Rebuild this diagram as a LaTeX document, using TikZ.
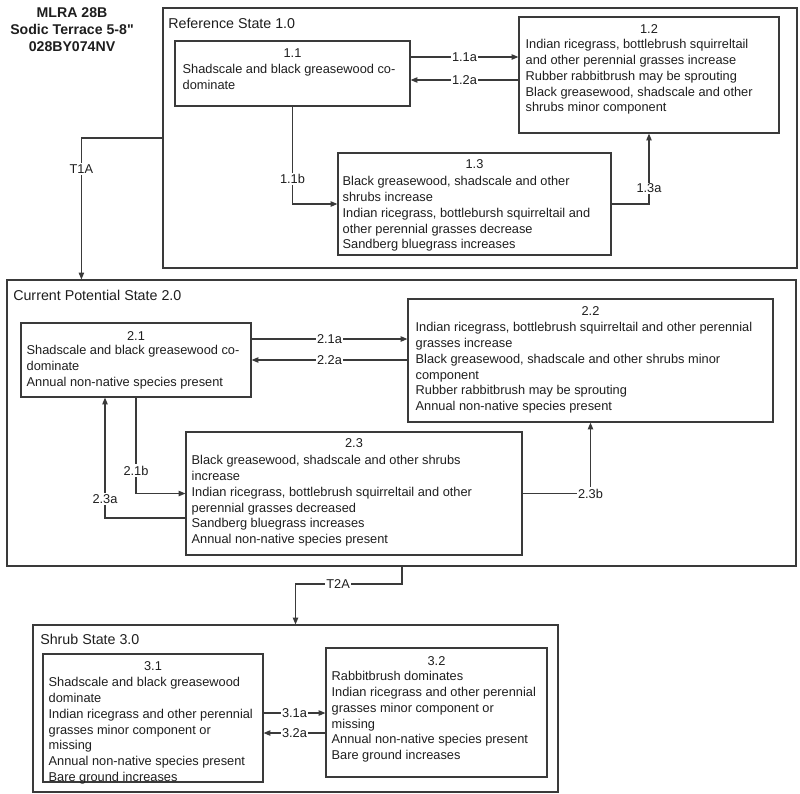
\documentclass[tikz,border=0pt]{standalone}
\usepackage{fontspec}
\setmainfont{Liberation Sans}
\usetikzlibrary{arrows.meta,calc,fit}
\definecolor{ln}{HTML}{3A3A3A}
\definecolor{tx}{HTML}{1E1E1E}
\begin{document}
\begin{tikzpicture}[x=0.75pt,y=-0.75pt,
  stbox/.style={draw=ln, line width=0.9pt, inner sep=0pt},
  num/.style={text=tx, font=\fontsize{9.6}{11.8}\selectfont, inner sep=0pt, anchor=north},
  body/.style={text=tx, font=\fontsize{9.6}{11.8}\selectfont, inner sep=0pt, align=left, anchor=north west},
  statelbl/.style={text=tx, font=\fontsize{10.7}{12.8}\selectfont, inner sep=0pt, anchor=west},
  lbl/.style={text=tx, font=\fontsize{9.6}{11.8}\selectfont, fill=white, inner sep=1pt},
  conn/.style={draw=ln, line width=0.8pt},
  arr/.style={conn, -{Triangle[length=5pt,width=4pt]}}
]
\useasboundingbox (0,0) rectangle (800,793);

% title
\node[text=tx, font=\bfseries\fontsize{10.6}{12.75}\selectfont, align=center, inner sep=0pt, anchor=north] (title) at (72,7) {MLRA 28B\\Sodic Terrace 5-8\textquotedbl\\028BY074NV};

% state boxes
\node[stbox, fit={(163,8) (797,268)}] (R) {};
\node[stbox, fit={(7,280) (796,566)}] (C) {};
\node[stbox, fit={(33,625) (558,792)}] (S) {};
\node[statelbl] (Rl) at (168,23) {Reference State 1.0};
\node[statelbl] (Cl) at (13,295) {Current Potential State 2.0};
\node[statelbl] (Sl) at (40,639) {Shrub State 3.0};

% community boxes
\node[stbox, fit={(175,41) (410,106)}] (b11) {};
\node[stbox, fit={(519,17) (779,133)}] (b12) {};
\node[stbox, fit={(338,153) (611,255)}] (b13) {};
\node[stbox, fit={(21,323) (251,397)}] (b21) {};
\node[stbox, fit={(408,299) (773,422)}] (b22) {};
\node[stbox, fit={(186,432) (522,555)}] (b23) {};
\node[stbox, fit={(43,654) (263,782)}] (b31) {};
\node[stbox, fit={(326,648) (547,777)}] (b32) {};

% texts
\node[num] (n11) at ($(b11.north)+(0,8)$) {1.1};
\node[body] (t11) at ($(b11.north west)+(8,24)$) {Shadscale and black greasewood co-\\dominate};
\node[num] (n12) at ($(b12.north)+(0,8)$) {1.2};
\node[body] (t12) at ($(b12.north west)+(7,23)$) {Indian ricegrass, bottlebrush squirreltail\\and other perennial grasses increase\\Rubber rabbitbrush may be sprouting\\Black greasewood, shadscale and other\\shrubs minor component};
\node[num] (n13) at ($(b13.north)+(0,7)$) {1.3};
\node[body] (t13) at ($(b13.north west)+(5,24)$) {Black greasewood, shadscale and other\\shrubs increase\\Indian ricegrass, bottlebursh squirreltail and\\other perennial grasses decrease\\Sandberg bluegrass increases};
\node[num] (n21) at ($(b21.north)+(0,9)$) {2.1};
\node[body] (t21) at ($(b21.north west)+(6,23)$) {Shadscale and black greasewood co-\\dominate\\Annual non-native species present};
\node[num] (n22) at ($(b22.north)+(0,8)$) {2.2};
\node[body] (t22) at ($(b22.north west)+(8,24)$) {Indian ricegrass, bottlebrush squirreltail and other perennial\\grasses increase\\Black greasewood, shadscale and other shrubs minor\\component\\Rubber rabbitbrush may be sprouting\\Annual non-native species present};
\node[num] (n23) at ($(b23.north)+(0,7)$) {2.3};
\node[body] (t23) at ($(b23.north west)+(6,24)$) {Black greasewood, shadscale and other shrubs\\increase\\Indian ricegrass, bottlebrush squirreltail and other\\perennial grasses decreased\\Sandberg bluegrass increases\\Annual non-native species present};
\node[num] (n31) at ($(b31.north)+(0,8)$) {3.1};
\node[body] (t31) at ($(b31.north west)+(6,24)$) {Shadscale and black greasewood\\dominate\\Indian ricegrass and other perennial\\grasses minor component or\\missing\\Annual non-native species present\\Bare ground increases};
\node[num] (n32) at ($(b32.north)+(0,9)$) {3.2};
\node[body] (t32) at ($(b32.north west)+(6,24)$) {Rabbitbrush dominates\\Indian ricegrass and other perennial\\grasses minor component or\\missing\\Annual non-native species present\\Bare ground increases};

% connectors state 1
\draw[arr] (b11.east |- 0,57) -- node[lbl] {1.1a} (b12.west |- 0,57);
\draw[arr] (b12.west |- 0,80) -- node[lbl] {1.2a} (b11.east |- 0,80);
\draw[arr] (b11.south) |- node[lbl, pos=0.37] {1.1b} (b13.west);
\draw[arr] (b13.east) -| node[lbl, pos=0.61] {1.3a} (b12.south);

% T1A
\draw[arr] (R.west) -| node[lbl, pos=0.61] {T1A} ($(C.north west)+(75,0)$);

% connectors state 2
\draw[arr] (b21.east |- 0,339) -- node[lbl] {2.1a} (b22.west |- 0,339);
\draw[arr] (b22.west |- 0,360) -- node[lbl] {2.2a} (b21.east |- 0,360);
\draw[arr] (b21.south) |- node[lbl, pos=0.38] {2.1b} (b23.west);
\draw[arr] (b23.west |- 0,518) -| node[lbl, pos=0.58] {2.3a} (b21.south -| 105,0);
\draw[arr] (b23.east) -| node[lbl, pos=0.5] {2.3b} (b22.south);

% T2A
\coordinate (t2c) at (402,584);
\draw[arr] (C.south -| t2c) |- node[lbl, pos=0.8] {T2A} (S.north |- t2c) -- (S.north);

% connectors state 3
\draw[arr] (b31.east |- 0,713) -- node[lbl] {3.1a} (b32.west |- 0,713);
\draw[arr] (b32.west |- 0,733) -- node[lbl] {3.2a} (b31.east |- 0,733);
\end{tikzpicture}
\end{document}
